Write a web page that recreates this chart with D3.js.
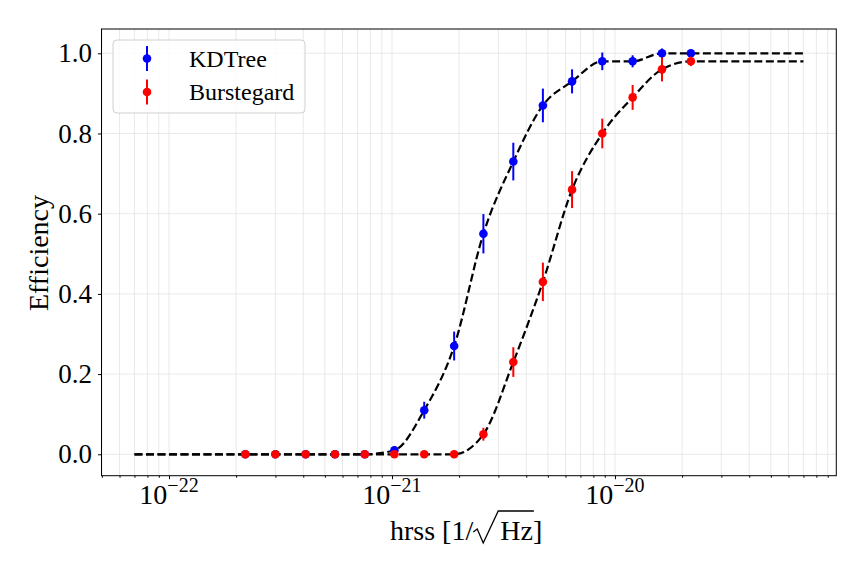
<!DOCTYPE html>
<html>
<head>
<meta charset="utf-8">
<script src="https://cdn.jsdelivr.net/npm/d3@7"></script>
<style>
  body { margin: 0; background: #fff; }
  text { font-family: "Liberation Serif", "DejaVu Serif", serif; fill: #000; }
</style>
</head>
<body>
<div id="chart"></div>
<script>
// injection amplitudes (hrss) and the measured efficiencies
var hrss = [2.2e-22, 3.0e-22, 4.1e-22, 5.55e-22, 7.55e-22, 1.025e-21, 1.395e-21, 1.9e-21,
            2.57e-21, 3.5e-21, 4.75e-21, 6.42e-21, 8.77e-21, 1.2e-20, 1.625e-20, 2.19e-20];
var kdtreeEff = [0, 0, 0, 0, 0, 0.01, 0.11, 0.27, 0.55, 0.73, 0.87, 0.93, 0.98, 0.98, 1.0, 1.0];
var kdtreeErr = [0, 0, 0, 0, 0, 0.01, 0.021, 0.036, 0.049, 0.047, 0.042, 0.03, 0.022, 0.015, 0.012, 0];
var burstEff = [0, 0, 0, 0, 0, 0, 0, 0, 0.05, 0.23, 0.43, 0.66, 0.80, 0.89, 0.96, 0.98];
var burstErr = [0, 0, 0, 0, 0, 0, 0, 0, 0.016, 0.037, 0.048, 0.046, 0.037, 0.031, 0.030, 0.012];

// dashed fit curves
var fitHrss = [7e-23, 2.2e-22, 3.0e-22, 4.1e-22, 5.55e-22, 7.55e-22, 1.025e-21, 1.395e-21, 1.9e-21,
               2.57e-21, 3.5e-21, 4.75e-21, 6.42e-21, 8.77e-21, 1.2e-20, 1.625e-20, 2.19e-20, 7e-20];
var kdtreeFit = [0, 0, 0, 0, 0, 0, 0.01, 0.11, 0.27, 0.55, 0.73, 0.87, 0.93, 0.98, 0.98, 1.0, 1.0, 1.0];
var burstFit = [0, 0, 0, 0, 0, 0, 0, 0, 0, 0.05, 0.23, 0.43, 0.66, 0.80, 0.89, 0.96, 0.98, 0.98];

var xMajor = [1e-22, 1e-21, 1e-20];
var xMajorExp = ["\u221222", "\u221221", "\u221220"];
var yTicks = [0, 0.2, 0.4, 0.6, 0.8, 1.0];

var W = 864, H = 576;
var plotL = 101.5, plotR = 836.3, plotT = 29, plotB = 475.7;

var svg = d3.select("#chart").append("svg")
    .attr("width", W).attr("height", H);

var x = d3.scaleLog().domain([4.98e-23, 9.83e-20]).range([plotL, plotR]);
var y = d3.scaleLinear().domain([-0.0534, 1.0606]).range([plotB, plotT]);

// grid
var allTicks = x.ticks();
svg.append("g").selectAll("line")
    .data(allTicks)
    .enter().append("line")
    .attr("x1", function (d) { return x(d); })
    .attr("x2", function (d) { return x(d); })
    .attr("y1", plotT).attr("y2", plotB)
    .attr("stroke", "#e3e3e3").attr("stroke-width", 0.8);
svg.append("g").selectAll("line")
    .data(yTicks)
    .enter().append("line")
    .attr("x1", plotL).attr("x2", plotR)
    .attr("y1", function (d) { return y(d); })
    .attr("y2", function (d) { return y(d); })
    .attr("stroke", "#e3e3e3").attr("stroke-width", 0.8);

// axes
var minor = allTicks.filter(function (d) {
    return xMajor.indexOf(d) < 0;
});
svg.append("g")
    .attr("transform", "translate(0," + plotB + ")")
    .call(d3.axisBottom(x).tickValues(xMajor).tickSize(3.5).tickFormat(""))
    .call(function (g) { g.select(".domain").remove(); });
svg.append("g")
    .attr("transform", "translate(0," + plotB + ")")
    .call(d3.axisBottom(x).tickValues(minor).tickSize(2).tickFormat(""))
    .call(function (g) { g.select(".domain").remove(); });

var xl = svg.append("g").selectAll("text")
    .data(xMajor)
    .enter().append("text")
    .attr("x", function (d) { return x(d); })
    .attr("y", 504)
    .attr("text-anchor", "middle")
    .style("font-size", "28px");
xl.append("tspan").text("10");
xl.append("tspan")
    .attr("dy", -12)
    .style("font-size", "20px")
    .text(function (d, i) { return xMajorExp[i]; });

svg.append("g")
    .attr("transform", "translate(" + plotL + ",0)")
    .call(d3.axisLeft(y).tickValues(yTicks).tickSize(3.5).tickPadding(6)
        .tickFormat(d3.format(".1f")))
    .call(function (g) {
        g.select(".domain").remove();
        g.selectAll("text").style("font-size", "27px")
            .style("font-family", "'Liberation Serif', serif");
    });

// frame
svg.append("rect")
    .attr("x", plotL).attr("y", plotT)
    .attr("width", plotR - plotL).attr("height", plotB - plotT)
    .attr("fill", "none").attr("stroke", "#000").attr("stroke-width", 1);

// fit curves
var line = d3.line()
    .x(function (d) { return x(d[0]); })
    .y(function (d) { return y(d[1]); })
    .curve(d3.curveMonotoneX);

[kdtreeFit, burstFit].forEach(function (fit) {
    svg.append("path")
        .datum(d3.zip(fitHrss, fit))
        .attr("d", line)
        .attr("fill", "none")
        .attr("stroke", "#000")
        .attr("stroke-width", 2.2)
        .attr("stroke-dasharray", "8,3.5");
});

// points with error bars
var series = [
    {name: "KDTree", eff: kdtreeEff, err: kdtreeErr, color: "#0000ff"},
    {name: "Burstegard", eff: burstEff, err: burstErr, color: "#ff0000"}
];

series.forEach(function (s) {
    var pts = hrss.map(function (h, i) {
        return {h: h, v: s.eff[i], e: s.err[i]};
    });
    var g = svg.append("g");
    g.selectAll("line")
        .data(pts)
        .enter().append("line")
        .attr("x1", function (d) { return x(d.h); })
        .attr("x2", function (d) { return x(d.h); })
        .attr("y1", function (d) { return y(d.v - d.e); })
        .attr("y2", function (d) { return y(d.v + d.e); })
        .attr("stroke", s.color).attr("stroke-width", 2);
    g.selectAll("circle")
        .data(pts)
        .enter().append("circle")
        .attr("cx", function (d) { return x(d.h); })
        .attr("cy", function (d) { return y(d.v); })
        .attr("r", 4.3)
        .attr("fill", s.color);
});

// legend
var lg = svg.append("g");
lg.append("rect")
    .attr("x", 113).attr("y", 40)
    .attr("width", 192).attr("height", 73)
    .attr("rx", 4)
    .attr("fill", "#fff").attr("fill-opacity", 0.8)
    .attr("stroke", "#d0d0d0").attr("stroke-width", 1);
series.forEach(function (s, i) {
    var cy = 58.5 + i * 33.5;
    lg.append("line")
        .attr("x1", 147).attr("x2", 147)
        .attr("y1", cy - 12.5).attr("y2", cy + 12.5)
        .attr("stroke", s.color).attr("stroke-width", 2);
    lg.append("circle")
        .attr("cx", 147).attr("cy", cy).attr("r", 4.3)
        .attr("fill", s.color);
    lg.append("text")
        .attr("x", 189).attr("y", cy + 8)
        .style("font-size", "24px")
        .text(s.name);
});

// axis labels
svg.append("text")
    .attr("transform", "translate(48,253) rotate(-90)")
    .attr("text-anchor", "middle")
    .style("font-size", "28px")
    .text("Efficiency");

var xt = svg.append("text")
    .attr("x", 390).attr("y", 540)
    .style("font-size", "28px");
xt.append("tspan").text("hrss [1/");
xt.append("tspan").attr("dx", 27).text("Hz");
xt.append("tspan").text("]");

var node = xt.node();
var hStart = node.getStartPositionOfChar(8).x;
var zEnd = node.getEndPositionOfChar(9).x;
var b = 540;
svg.append("path")
    .attr("d", "M" + (hStart - 27) + "," + (b - 8) +
        "L" + (hStart - 23) + "," + (b - 11) +
        "L" + (hStart - 17) + "," + (b + 3) +
        "L" + (hStart - 2) + "," + (b - 29) +
        "L" + (zEnd + 1) + "," + (b - 29))
    .attr("fill", "none")
    .attr("stroke", "#000")
    .attr("stroke-width", 1.3);
</script>
</body>
</html>
